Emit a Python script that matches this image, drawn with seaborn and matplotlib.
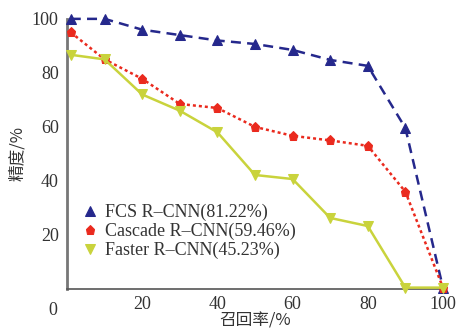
import numpy as np
import pandas as pd
import matplotlib
matplotlib.use("Agg")
import matplotlib.pyplot as plt
import seaborn as sns

recall = [1, 10, 20, 30, 40, 50, 60, 70, 80, 90, 100]
fcs = [100, 100, 96, 94, 92, 90.7, 88.5, 84.8, 82.6, 59.6, 0.5]
cascade = [95, 85, 77.8, 68.5, 67, 60, 56.7, 55, 53, 36, 0.5]
faster = [86.7, 85, 72, 66, 58, 42.2, 40.7, 26.3, 23.3, 0.5, 0.5]
series_names = ["FCS R\u2013CNN(81.22%)", "Cascade R\u2013CNN(59.46%)", "Faster R\u2013CNN(45.23%)"]
xticks = [20, 40, 60, 80, 100]
yticks = [20, 40, 60, 80, 100]

sns.set_theme(style="white")
plt.rcParams['font.family'] = ['Liberation Serif', 'Noto Sans CJK SC']

df = pd.DataFrame({
    "recall": recall * 3,
    "precision": fcs + cascade + faster,
    "model": sum([[n] * len(recall) for n in series_names], []),
})

fig = plt.figure(figsize=(4.67, 3.31), dpi=100)
ax = fig.add_axes([0.1435, 0.127, 0.805, 0.816])

colors = ["#25288c", "#ea2a1e", "#c9d33c"]
styles = [(0, (4, 2.5)), (0, (1.2, 1.2)), "-"]
markers = ["^", "p", "v"]
for name, c, ls, m in zip(series_names, colors, styles, markers):
    sub = df[df["model"] == name]
    sns.lineplot(data=sub, x="recall", y="precision", ax=ax, color=c, linestyle=ls,
                 marker=m, markersize=6.5, markeredgecolor=c, linewidth=1.8,
                 label=name, clip_on=False, zorder=3)

ax.set_xlim(0, 100)
ax.set_ylim(0, 100)
ax.set_xticks(xticks)
ax.set_yticks(yticks)
ax.tick_params(axis="x", direction="in", length=4, labelsize=13, pad=5, colors="#333333")
ax.tick_params(axis="y", direction="out", length=4, labelsize=13, pad=2, colors="#333333")
ax.text(-2.5, -5, "0", fontsize=13, ha="right", va="top", color="#333333", transform=ax.transData)
for s in ["top", "right"]:
    ax.spines[s].set_visible(False)
ax.spines["left"].set_color("#777777")
ax.spines["left"].set_linewidth(2)
ax.spines["bottom"].set_color("#555555")
ax.spines["bottom"].set_linewidth(1.2)

ax.set_xlabel("召回率/%", fontsize=12, labelpad=0, family=['Noto Sans CJK SC'], color="#333333")
ax.set_ylabel("精度/%", fontsize=12, labelpad=4, family=['Noto Sans CJK SC'], color="#333333")

leg = ax.legend(loc="lower left", bbox_to_anchor=(0.0, 0.05), frameon=False, fontsize=13,
                handlelength=0.8, handletextpad=0.4, labelspacing=0.1)
for h in leg.legend_handles:
    h.set_linestyle("none")
for t in leg.get_texts():
    t.set_color("#333333")

fig.savefig("out.png", dpi=100)
